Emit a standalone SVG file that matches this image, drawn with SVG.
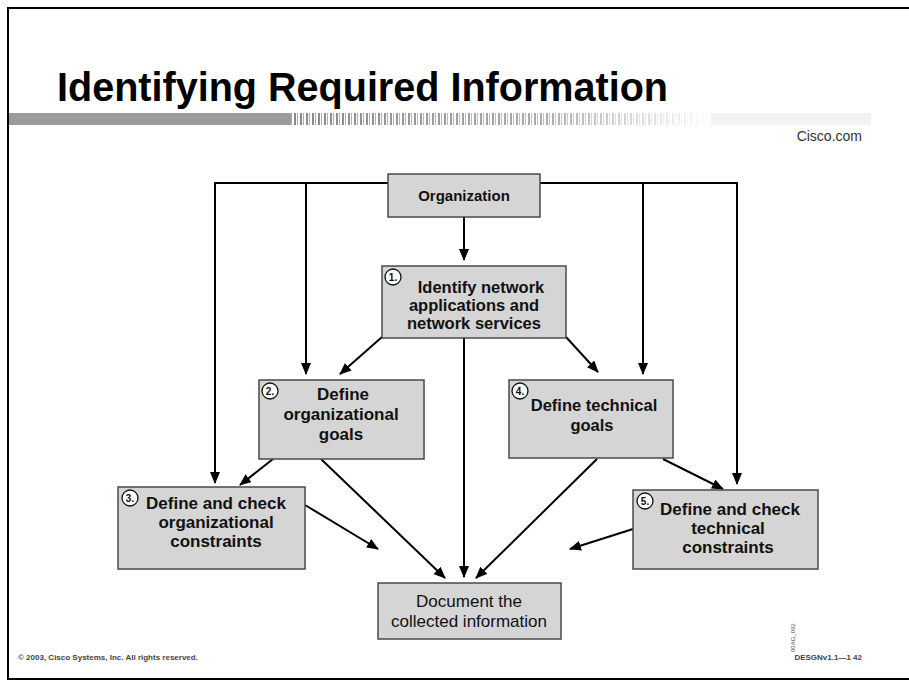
<svg xmlns="http://www.w3.org/2000/svg" width="909" height="684" viewBox="0 0 909 684">
  <defs>
    <style>
      .box { fill: #d5d5d5; stroke: #4a4a4a; stroke-width: 1.5; }
      .lbl { font-family: "Liberation Sans", Arial, sans-serif; font-size: 17px; font-weight: bold; fill: #111; text-anchor: middle; }
      .doc { font-family: "Liberation Sans", Arial, sans-serif; font-size: 17px; fill: #111; text-anchor: middle; }
      .badge { fill: #fff; stroke: #111; stroke-width: 1.3; }
      .num { font-family: "Liberation Sans", Arial, sans-serif; font-size: 10px; font-weight: bold; fill: #111; text-anchor: middle; }
      .wire { fill: none; stroke: #000; stroke-width: 2; marker-end: url(#head); }
      .foot { font-family: "Liberation Sans", Arial, sans-serif; font-size: 8px; font-weight: bold; fill: #444; }
    </style>
    <marker id="head" viewBox="0 0 12 10" refX="11" refY="5" markerWidth="6" markerHeight="5" orient="auto" markerUnits="strokeWidth">
      <path d="M0,0 L12,5 L0,10 z" fill="#000"/>
    </marker>
    <pattern id="stripes" width="6" height="12" patternUnits="userSpaceOnUse">
      <rect x="0" y="0" width="2" height="12" fill="#888"/>
      <rect x="3" y="0" width="1" height="12" fill="#aaa"/>
    </pattern>
    <linearGradient id="fade" x1="0" x2="1" y1="0" y2="0">
      <stop offset="0" stop-color="#fff" stop-opacity="0"/>
      <stop offset="0.6" stop-color="#fff" stop-opacity="0.3"/>
      <stop offset="1" stop-color="#fff" stop-opacity="1"/>
    </linearGradient>
  </defs>

  <rect width="909" height="684" fill="#fff"/>

  <!-- page frame -->
  <path d="M909,8 H8 V679 H909" fill="none" stroke="#000" stroke-width="2"/>

  <!-- title and header bar -->
  <text x="57" y="101" font-family="Liberation Sans, Arial, sans-serif" font-size="40" font-weight="bold" fill="#000" textLength="611" lengthAdjust="spacingAndGlyphs">Identifying Required Information</text>
  <rect x="9" y="113" width="282" height="12" fill="#9a9a9a"/>
  <rect x="291" y="113" width="420" height="12" fill="url(#stripes)"/>
  <rect x="291" y="113" width="420" height="12" fill="url(#fade)"/>
  <rect x="711" y="113" width="160" height="12" fill="#f2f2f2"/>
  <text x="862" y="141" font-family="Liberation Sans, Arial, sans-serif" font-size="14" fill="#333" text-anchor="end">Cisco.com</text>

  <!-- connectors -->
  <g id="connectors">
    <path class="wire" d="M388,183 H215 V483"/>
    <path class="wire" d="M388,183 H306 V374"/>
    <path class="wire" d="M540,183 H643 V374"/>
    <path class="wire" d="M540,183 H737 V484"/>
    <path class="wire" d="M464,217 V260"/>
    <path class="wire" d="M382,337 L340,374"/>
    <path class="wire" d="M566,337 L598,372"/>
    <path class="wire" d="M464,338 V577"/>
    <path class="wire" d="M273,459 L240,485"/>
    <path class="wire" d="M321,459 L445,578"/>
    <path class="wire" d="M597,459 L476,578"/>
    <path class="wire" d="M663,459 L723,489"/>
    <path class="wire" d="M305,505 L378,549"/>
    <path class="wire" d="M633,529 L570,549"/>
  </g>

  <g id="organization">
    <rect class="box" x="388" y="174" width="152" height="43"/>
    <text class="lbl" x="464" y="201" style="font-size:15px">Organization</text>
  </g>

  <g id="step1">
    <rect class="box" x="382" y="266" width="184" height="72"/>
    <circle class="badge" cx="393" cy="277" r="8"/>
    <text class="num" x="393" y="281">1.</text>
    <text class="lbl" x="481" y="293" style="font-size:16.5px">Identify network</text>
    <text class="lbl" x="474" y="311" style="font-size:16.5px">applications and</text>
    <text class="lbl" x="474" y="329" style="font-size:16.5px">network services</text>
  </g>

  <g id="step2">
    <rect class="box" x="259" y="380" width="165" height="79"/>
    <circle class="badge" cx="270" cy="391" r="8"/>
    <text class="num" x="270" y="395">2.</text>
    <text class="lbl" x="343" y="400">Define</text>
    <text class="lbl" x="341" y="420">organizational</text>
    <text class="lbl" x="341" y="440">goals</text>
  </g>

  <g id="step4">
    <rect class="box" x="509" y="380" width="164" height="78"/>
    <circle class="badge" cx="520" cy="391" r="8"/>
    <text class="num" x="520" y="395">4.</text>
    <text class="lbl" x="594" y="411" style="font-size:16.5px">Define technical</text>
    <text class="lbl" x="592" y="431" style="font-size:16.5px">goals</text>
  </g>

  <g id="step3">
    <rect class="box" x="118" y="487" width="187" height="82"/>
    <circle class="badge" cx="130" cy="498" r="8"/>
    <text class="num" x="130" y="502">3.</text>
    <text class="lbl" x="216" y="509">Define and check</text>
    <text class="lbl" x="216" y="528">organizational</text>
    <text class="lbl" x="216" y="547">constraints</text>
  </g>

  <g id="step5">
    <rect class="box" x="633" y="490" width="185" height="79"/>
    <circle class="badge" cx="645" cy="501" r="8"/>
    <text class="num" x="645" y="505">5.</text>
    <text class="lbl" x="730" y="515">Define and check</text>
    <text class="lbl" x="728" y="534">technical</text>
    <text class="lbl" x="728" y="553">constraints</text>
  </g>

  <g id="document">
    <rect class="box" x="378" y="583" width="183" height="56"/>
    <text class="doc" x="469" y="607">Document the</text>
    <text class="doc" x="469" y="627">collected information</text>
  </g>

  <!-- figure id and footer -->
  <text x="0" y="0" transform="translate(795,652) rotate(-90)" font-family="Liberation Sans, Arial, sans-serif" font-size="6" fill="#555">00AG_092</text>
  <text class="foot" x="18" y="660">© 2003, Cisco Systems, Inc. All rights reserved.</text>
  <text class="foot" x="862" y="660" text-anchor="end">DESGNv1.1—1 42</text>
</svg>
